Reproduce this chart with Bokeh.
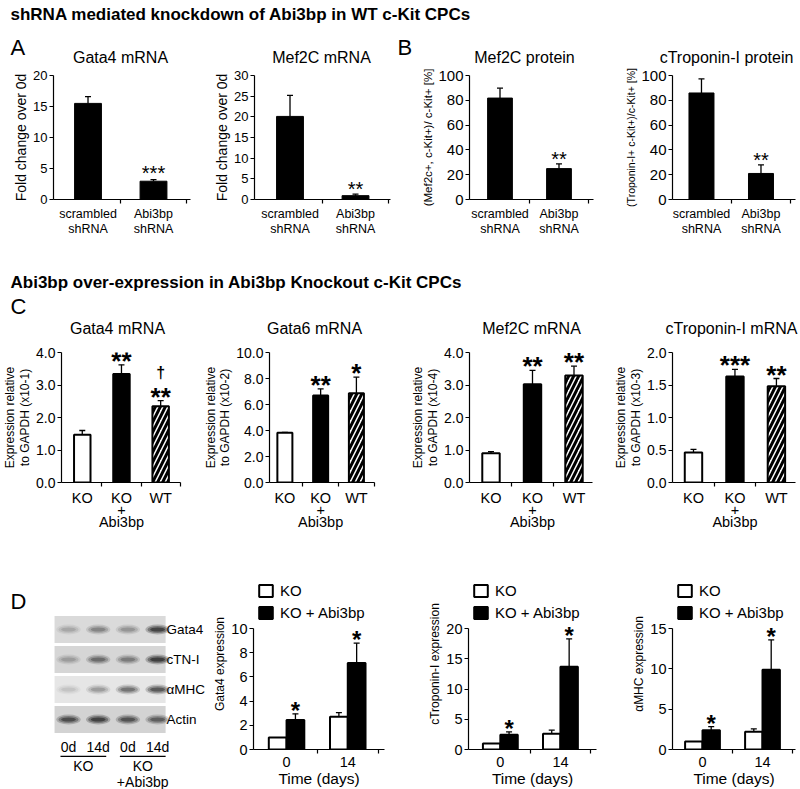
import numpy as np
from bokeh.plotting import figure
from bokeh.layouts import column, row
from bokeh.models import (Range1d, FixedTicker, Whisker, TeeHead, LabelSet,
                          ColumnDataSource, Legend, LegendItem, NumeralTickFormatter)
from bokeh.core.properties import value
from bokeh.embed import file_html
from bokeh.resources import INLINE

FONT = "Liberation Sans"

# ---------------- data ----------------
section_titles = ["shRNA mediated knockdown of Abi3bp in WT c-Kit CPCs",
                  "Abi3bp over-expression in Abi3bp Knockout c-Kit CPCs"]
kd_titles = ["Gata4 mRNA", "Mef2C mRNA", "Mef2C protein", "cTroponin-I protein"]
oe_titles = ["Gata4 mRNA", "Gata6 mRNA", "Mef2C mRNA", "cTroponin-I mRNA"]

sh_groups = ["scrambled\nshRNA", "Abi3bp\nshRNA"]
gata4_kd = [15.5, 2.95]
gata4_kd_err = [16.6, 3.2]
gata4_kd_sig = ["", "***"]
mef2c_kd = [20.1, 0.93]
mef2c_kd_err = [25.2, 1.3]
mef2c_kd_sig = ["", "**"]
mef2c_prot = [81.8, 24.9]
mef2c_prot_err = [89.8, 28.7]
mef2c_prot_sig = ["", "**"]
ctni_prot = [85.9, 21.0]
ctni_prot_err = [97.2, 27.9]
ctni_prot_sig = ["", "**"]

oe_groups = ["KO", "KO\n+\nAbi3bp", "WT"]
gata4_oe = [1.47, 3.34, 2.35]
gata4_oe_err = [1.60, 3.62, 2.52]
gata4_oe_sig = ["", "**", "**"]
gata4_oe_dagger = ["", "", "\u2020"]
gata6_oe = [3.82, 6.69, 6.87]
gata6_oe_err = [3.85, 7.20, 8.10]
gata6_oe_sig = ["", "**", "*"]
mef2c_oe = [0.90, 3.02, 3.29]
mef2c_oe_err = [0.95, 3.45, 3.58]
mef2c_oe_sig = ["", "**", "**"]
ctni_oe = [0.46, 1.63, 1.48]
ctni_oe_err = [0.51, 1.74, 1.60]
ctni_oe_sig = ["", "***", "**"]

days = ["0", "14"]
gata4_ko = [1.0, 2.7]
gata4_ko_err = [1.0, 3.05]
gata4_ab = [2.45, 7.15]
gata4_ab_err = [2.95, 8.8]
ctni_ko = [1.0, 2.6]
ctni_ko_err = [1.0, 3.2]
ctni_ab = [2.45, 13.7]
ctni_ab_err = [2.9, 18.3]
mhc_ko = [1.0, 2.2]
mhc_ko_err = [1.0, 2.55]
mhc_ab = [2.4, 9.9]
mhc_ab_err = [2.85, 13.6]
time_sig = ["*", "*"]

blot_proteins = ["Gata4", "cTN-I", "\u03b1MHC", "Actin"]
blot_lanes = ["0d", "14d", "0d", "14d"]
blot_groups = ["KO", "KO\n+Abi3bp"]
blot_group_lanes = [(0, 1), (2, 3)]
band_gata4 = [0.25, 0.45, 0.35, 0.95]
band_ctni = [0.30, 0.60, 0.50, 1.00]
band_mhc = [0.15, 0.35, 0.60, 0.80]
band_actin = [0.85, 0.95, 0.80, 0.70]
strip_colors = ["#dadada", "#d6d6d6", "#e6e6e6", "#d3d3d3"]

TOTAL_W = 798


# ---------------- helpers ----------------
def base_fig(geom, xr, yr):
    fig_left, fig_w, fl, fr, rt, rh, ft, fb = geom
    p = figure(width=fig_w, height=rh, x_range=Range1d(*xr), y_range=Range1d(*yr),
               output_backend="svg", toolbar_location=None,
               min_border_left=fl - fig_left, min_border_right=fig_left + fig_w - fr,
               min_border_top=ft - rt, min_border_bottom=rt + rh - fb)
    p.outline_line_color = None
    p.xgrid.visible = False
    p.ygrid.visible = False
    p.background_fill_color = "white"
    p.border_fill_color = "white"
    return p


def style_axes(p, cats, yticks, ytick_size, xtick_size, ylabel, ylabel_size,
               xline_h=1.1, yfmt=None, xlabel=None, xlabel_size="15px", ybounds=None):
    xa = p.xaxis[0]
    ya = p.yaxis[0]
    n = len(cats)
    xa.ticker = FixedTicker(ticks=list(range(n)), minor_ticks=[i + 0.5 for i in range(n)])
    xa.major_label_overrides = {i: c for i, c in enumerate(cats)}
    ya.ticker = FixedTicker(ticks=[float(t) for t in yticks])
    if ybounds:
        ya.bounds = ybounds
    if yfmt:
        ya.formatter = NumeralTickFormatter(format=yfmt)
    for ax in (xa, ya):
        ax.axis_line_color = "black"
        ax.axis_line_width = 1.2
        ax.major_tick_line_color = "black"
        ax.major_tick_line_width = 1.2
        ax.minor_tick_line_color = "black"
        ax.minor_tick_line_width = 1.2
        ax.major_label_text_font = FONT
        ax.major_label_text_color = "black"
        ax.axis_label_text_font = FONT
        ax.axis_label_text_font_style = "normal"
        ax.axis_label_text_color = "black"
    ya.major_tick_in = 0
    ya.major_tick_out = 4
    ya.minor_tick_in = 0
    ya.minor_tick_out = 0
    ya.major_label_standoff = 2
    ya.major_label_text_font_size = ytick_size
    ya.axis_label = ylabel
    ya.axis_label_text_font_size = ylabel_size
    ya.axis_label_standoff = 1
    ya.axis_label_text_line_height = 1.05
    xa.major_tick_in = 0
    xa.major_tick_out = 0
    xa.minor_tick_in = 0
    xa.minor_tick_out = 4
    xa.major_label_standoff = 3
    xa.major_label_text_font_size = xtick_size
    xa.major_label_text_line_height = xline_h
    if xlabel:
        xa.axis_label = xlabel
        xa.axis_label_text_font_size = xlabel_size
        xa.axis_label_standoff = 0


def add_err(p, xs, vals, errs):
    keep = [i for i in range(len(xs)) if errs[i] > vals[i]]
    src = ColumnDataSource(dict(x=[xs[i] for i in keep], lo=[vals[i] for i in keep],
                                hi=[errs[i] for i in keep]))
    p.add_layout(Whisker(source=src, base="x", lower="lo", upper="hi", dimension="height",
                         line_color="black", line_width=1.3, lower_head=None,
                         upper_head=TeeHead(size=6, line_color="black", line_width=1.3)))


def add_sig(p, xs, errs, sig, size, bold, off):
    src = ColumnDataSource(dict(x=list(xs), y=list(errs), t=list(sig)))
    p.add_layout(LabelSet(x="x", y="y", text="t", source=src, text_align="center",
                          text_baseline="alphabetic", y_offset=off,
                          text_font=value(FONT), text_font_size=size,
                          text_font_style="bold" if bold else "normal",
                          text_color="black"))


def header_fig(top, h, items):
    """items: (x, y, text, size, bold, align) in page pixels."""
    p = figure(width=TOTAL_W, height=h, x_range=Range1d(0, TOTAL_W), y_range=Range1d(h, 0),
               min_border=0, x_axis_location=None, y_axis_location=None,
               output_backend="svg", toolbar_location=None)
    p.outline_line_color = None
    p.grid.visible = False
    for x, y, t, size, bold, align in items:
        p.text(x=[x], y=[y - top], text=[t], text_font=value(FONT), text_font_size=size,
               text_font_style="bold" if bold else "normal", text_align=align,
               text_baseline="alphabetic", text_color="black")
    return p


# ---------------- headers ----------------
h1_items = [(10, 14, section_titles[0], "17px", True, "left"),
            (10, 47, "A", "22px", False, "left"),
            (397, 47, "B", "22px", False, "left")]
for t, cx in zip(kd_titles, [120, 321, 524, 726]):
    h1_items.append((cx, 57, t, "16px", False, "center"))
h1 = header_fig(0, 66, h1_items)

h2_items = [(10, 282, section_titles[1], "17px", True, "left"),
            (10, 306, "C", "22px", False, "left")]
for t, cx in zip(oe_titles, [117, 314, 531, 731]):
    h2_items.append((cx, 328, t, "16px", False, "center"))
h2 = header_fig(262, 78, h2_items)


# ---------------- row A/B ----------------
def kd_chart(geom, xr, ymax, ystep, vals, errs, sig, ylabel, ylabel_size, ytick_size,
             bar_w, star_off):
    p = base_fig(geom, xr, (0, ymax))
    xs = list(range(len(sh_groups)))
    p.vbar(x=xs, top=vals, width=bar_w, fill_color="black", line_color="black")
    add_err(p, xs, vals, errs)
    add_sig(p, xs, errs, sig, "20px", False, star_off)
    style_axes(p, sh_groups, np.arange(0, ymax + ystep / 2, ystep), ytick_size, "12.5px",
               ylabel, ylabel_size, xline_h=1.1)
    return p


gA1 = (0, 200, 53, 190, 66, 196, 75, 199)
gA2 = (200, 198, 254, 390, 66, 196, 75, 199)
gB1 = (398, 202, 469, 593, 66, 196, 75, 199)
gB2 = (600, 198, 672, 795, 66, 196, 75, 199)

pA1 = kd_chart(gA1, (-0.527, 1.565), 20, 5, gata4_kd, gata4_kd_err, gata4_kd_sig,
               "Fold change over 0d", "14px", "13px", 0.41, 0)
pA2 = kd_chart(gA2, (-0.542, 1.534), 30, 5, mef2c_kd, mef2c_kd_err, mef2c_kd_sig,
               "Fold change over 0d", "14px", "13px", 0.41, -2)
pB1 = kd_chart(gB1, (-0.517, 1.585), 100, 20, mef2c_prot, mef2c_prot_err, mef2c_prot_sig,
               "(Mef2c+, c-Kit+)/ c-Kit+ [%]", "11.5px", "15px", 0.42, -2)
pB2 = kd_chart(gB2, (-0.487, 1.58), 100, 20, ctni_prot, ctni_prot_err, ctni_prot_sig,
               "(Troponin-I+ c-Kit+)/c-Kit+ [%]", "10.5px", "15px", 0.42, -2)


# ---------------- row C ----------------
def oe_chart(geom, xr, ymax, ystep, vals, errs, sig, ylabel, dagger=None, ytick_size="14px"):
    p = base_fig(geom, xr, (0, ymax))
    xs = list(range(len(oe_groups)))
    p.vbar(x=[xs[0]], top=[vals[0]], width=0.42, fill_color="white", line_color="black",
           line_width=2)
    p.vbar(x=[xs[1]], top=[vals[1]], width=0.42, fill_color="black", line_color="black",
           line_width=2)
    p.vbar(x=[xs[2]], top=[vals[2]], width=0.42, fill_color="white", line_color="black",
           line_width=2, hatch_pattern="/", hatch_color="black", hatch_weight=3,
           hatch_scale=10)
    add_err(p, xs, vals, errs)
    add_sig(p, xs, errs, sig, "26px", True, -5)
    if dagger:
        add_sig(p, xs, errs, dagger, "16px", True, 23)
    style_axes(p, oe_groups, np.arange(0, ymax + ystep / 2, ystep), ytick_size, "14.5px",
               ylabel, "12px", xline_h=0.75, yfmt="0.0")
    return p


gC1 = (0, 200, 54, 180, 340, 235, 352, 482)
gC2 = (200, 198, 258, 374, 340, 235, 352, 482)
gC3 = (398, 202, 469, 592, 340, 235, 352, 482)
gC4 = (600, 198, 672, 795, 340, 235, 352, 482)

pC1 = oe_chart(gC1, (-0.53, 2.506), 4, 1, gata4_oe, gata4_oe_err, gata4_oe_sig,
               "Expression relative\nto GAPDH (x10-1)", gata4_oe_dagger)
pC2 = oe_chart(gC2, (-0.43, 2.506), 10, 2, gata6_oe, gata6_oe_err, gata6_oe_sig,
               "Expression relative\nto GAPDH (x10-2)")
pC3 = oe_chart(gC3, (-0.518, 2.446), 4, 1, mef2c_oe, mef2c_oe_err, mef2c_oe_sig,
               "Expression relative\nto GAPDH (x10-4)")
pC4 = oe_chart(gC4, (-0.506, 2.46), 2, 0.5, ctni_oe, ctni_oe_err, ctni_oe_sig,
               "Expression relative\nto GAPDH (x10-3)")


# ---------------- row D ----------------
# frame reaches up to the legend; the value axis itself stops at ymax (629 px)
D_TOP, D_H = 575, 214
D_FRAME_TOP, D_AXIS_TOP, D_FRAME_BOTTOM = 578, 629, 752
D_STRETCH = (D_FRAME_BOTTOM - D_FRAME_TOP) / (D_FRAME_BOTTOM - D_AXIS_TOP)


def time_chart(geom, xr, ymax, ystep, ko, ko_err, ab, ab_err, ylabel):
    p = base_fig(geom, xr, (0, ymax * D_STRETCH))
    xs = np.arange(len(days))
    x_ko = [float(x) - 0.145 for x in xs]
    x_ab = [float(x) + 0.145 for x in xs]
    r_ko = p.vbar(x=x_ko, top=ko, width=0.29, fill_color="white", line_color="black",
                  line_width=2)
    r_ab = p.vbar(x=x_ab, top=ab, width=0.29, fill_color="black", line_color="black",
                  line_width=2)
    add_err(p, x_ko, ko, ko_err)
    add_err(p, x_ab, ab, ab_err)
    add_sig(p, x_ab, ab_err, time_sig, "24px", True, -5)
    style_axes(p, days, np.arange(0, ymax + ystep / 2, ystep), "14.5px", "14.5px",
               ylabel, "12px", xlabel="Time (days)", xlabel_size="15.5px",
               ybounds=(0, ymax))
    leg = Legend(items=[LegendItem(label="KO", renderers=[r_ko]),
                        LegendItem(label="KO + Abi3bp", renderers=[r_ab])],
                 location="top_left", orientation="vertical",
                 glyph_width=17, glyph_height=15, label_height=15, label_standoff=6,
                 spacing=5, padding=0, margin=4, border_line_alpha=0,
                 background_fill_alpha=0, label_text_font=FONT,
                 label_text_font_size="15px", label_text_color="black")
    p.add_layout(leg)
    return p


gD1 = (208, 196, 253, 384, D_TOP, D_H, D_FRAME_TOP, D_FRAME_BOTTOM)
gD2 = (404, 202, 468, 596, D_TOP, D_H, D_FRAME_TOP, D_FRAME_BOTTOM)
gD3 = (606, 192, 672, 795, D_TOP, D_H, D_FRAME_TOP, D_FRAME_BOTTOM)

pD1 = time_chart(gD1, (-0.54, 1.6), 10, 2, gata4_ko, gata4_ko_err, gata4_ab, gata4_ab_err,
                 "Gata4 expression")
pD2 = time_chart(gD2, (-0.53, 1.6), 20, 5, ctni_ko, ctni_ko_err, ctni_ab, ctni_ab_err,
                 "cTroponin-I expression")
pD3 = time_chart(gD3, (-0.5, 1.55), 15, 5, mhc_ko, mhc_ko_err, mhc_ab, mhc_ab_err,
                 "\u03b1MHC expression")

# western blot panel (rows 30 px apart, lanes ~29.7 px apart; row 0 at y=629)
pb = figure(width=208, height=D_H, x_range=Range1d(-2.29, 4.714),
            y_range=Range1d((D_TOP + D_H - 629) / 30, (D_TOP - 629) / 30),
            min_border=0, x_axis_location=None, y_axis_location=None,
            output_backend="svg", toolbar_location=None)
pb.outline_line_color = None
pb.grid.visible = False
rows_idx = list(range(len(blot_proteins)))
pb.rect(x=[1.4] * len(rows_idx), y=rows_idx, width=3.74, height=0.9,
        fill_color=strip_colors, line_color=None)
bx, by, bi = [], [], []
for r, inten in enumerate([band_gata4, band_ctni, band_mhc, band_actin]):
    for j, v in enumerate(inten):
        bx.append(j)
        by.append(r)
        bi.append(v)
for wf, hf, af in [(0.82, 0.34, 0.22), (0.68, 0.24, 0.32), (0.5, 0.13, 0.45)]:
    pb.ellipse(x=bx, y=by, width=wf, height=hf, fill_color="black",
               fill_alpha=[af * v for v in bi], line_color=None)
pb.text(x=[3.3] * len(rows_idx), y=rows_idx, text=blot_proteins, text_font=value(FONT),
        text_font_size="13.5px", text_baseline="middle", text_align="left", text_color="black")
pb.text(x=list(range(len(blot_lanes))), y=[3.93] * len(blot_lanes), text=blot_lanes,
        text_font=value(FONT), text_font_size="14px", text_baseline="middle",
        text_align="center", text_color="black")
pb.segment(x0=[a - 0.27 for a, b in blot_group_lanes], x1=[b + 0.27 for a, b in blot_group_lanes],
           y0=[4.23] * 2, y1=[4.23] * 2, line_color="black", line_width=1.3)
pb.text(x=[(a + b) / 2 for a, b in blot_group_lanes], y=[4.28] * 2, text=blot_groups,
        text_font=value(FONT), text_font_size="14px", text_baseline="top",
        text_align="center", text_line_height=1.0, text_color="black")
pb.text(x=[-1.95], y=[-0.93], text=["D"], text_font=value(FONT), text_font_size="22px",
        text_baseline="middle", text_align="left", text_color="black")

layout = column(h1,
                row(pA1, pA2, pB1, pB2),
                h2,
                row(pC1, pC2, pC3, pC4),
                row(column(pb), pD1, pD2, pD3))

open("out.html", "w").write(file_html(layout, INLINE))
